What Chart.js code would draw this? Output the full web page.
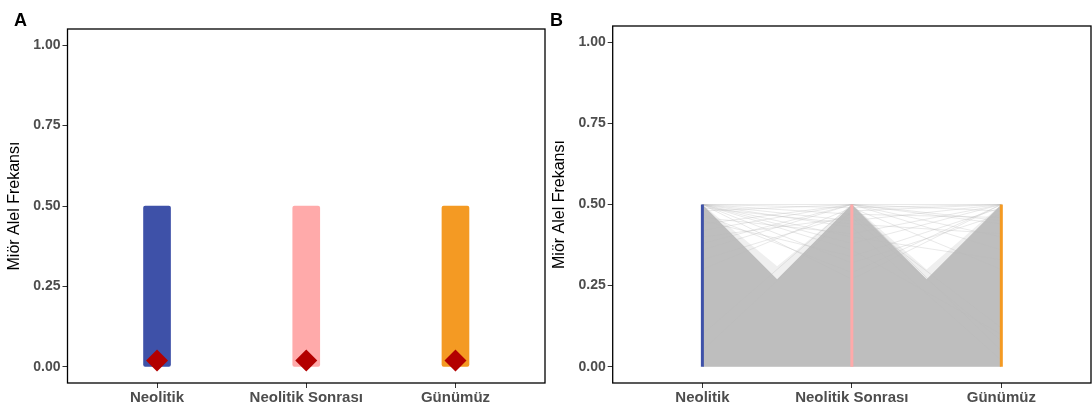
<!DOCTYPE html>
<html>
<head>
<meta charset="utf-8">
<script src="https://cdn.jsdelivr.net/npm/chart.js@4.4.1/dist/chart.umd.min.js"></script>
<style>
    body { margin: 0; background: #fff; width: 1092px; height: 411px; overflow: hidden; position: relative; }
    canvas { position: absolute; top: 0; }
    #chartA { left: 0; }
    #chartB { left: 548px; }
    .tag { position: absolute; top: 11px; font: bold 18px 'Liberation Sans', Arial, sans-serif; line-height: 1; color: #000; z-index: 2; }
</style>
</head>
<body>
<div class="tag" style="left:14px">A</div>
<div class="tag" style="left:550px">B</div>
<canvas id="chartA" width="560" height="411"></canvas>
<canvas id="chartB" width="544" height="411"></canvas>
<script>
const categories = ['Neolitik', 'Neolitik Sonrası', 'Günümüz'];
const catColors = ['#3E51A8', '#FFAAAA', '#F49A23'];
const yTicks = [0, 0.25, 0.5, 0.75, 1];

// panel A: extent of the jittered SNP cloud per period, and the mean (red diamond)
const stripMin = [0, 0, 0];
const stripMax = [0.5, 0.5, 0.5];
const meanFreq = [0.02, 0.02, 0.02];

// panel B: upper edge of the solid mass of lines, and of the lighter mesh just above it
const bandX = [0, 0.5, 1, 1.5, 2];
const bandTop = [0.5, 0.27, 0.5, 0.27, 0.5];
const meshTop = [0.5, 0.31, 0.5, 0.30, 0.5];

// panel B: single SNP lines that show above the mass
const snpNeolitik = [0.50, 0.48, 0.50, 0.42, 0.50, 0.36, 0.50, 0.46, 0.50, 0.30, 0.44, 0.50, 0.40, 0.10, 0.50, 0.47, 0.05, 0.50, 0.38, 0.49, 0.45, 0.50, 0.33, 0.50];
const snpSonrasi  = [0.47, 0.50, 0.38, 0.50, 0.43, 0.50, 0.50, 0.41, 0.32, 0.49, 0.50, 0.45, 0.46, 0.50, 0.36, 0.29, 0.48, 0.40, 0.50, 0.44, 0.34, 0.49, 0.47, 0.27];
const snpGunumuz  = [0.12, 0.05, 0.50, 0.44, 0.02, 0.48, 0.40, 0.50, 0.47, 0.50, 0.36, 0.50, 0.08, 0.45, 0.10, 0.50, 0.50, 0.33, 0.50, 0.41, 0.49, 0.30, 0.46, 0.50];

const FONT = "'Liberation Sans', Arial, sans-serif";

const boxBorder = {
    id: 'boxBorder',
    afterDatasetsDraw(chart) {
        const { ctx, chartArea: a } = chart;
        ctx.save();
        ctx.strokeStyle = '#000';
        ctx.lineWidth = 1.3;
        ctx.strokeRect(a.left, a.top, a.right - a.left, a.bottom - a.top);
        ctx.restore();
    },
};

function scalesFor(yWidth, titlePad) {
    return {
        x: {
            type: 'linear',
            min: -0.6,
            max: 2.6,
            offset: false,
            afterBuildTicks: s => { s.ticks = categories.map((c, i) => ({ value: i })); },
            afterFit: s => { s.height = 28; },
            ticks: {
                callback: v => categories[v],
                color: '#4D4D4D',
                font: { family: FONT, size: 15, weight: 'bold' },
                padding: 1,
                maxRotation: 0,
                autoSkip: false,
            },
            grid: { drawOnChartArea: false, offset: false, tickLength: 5, color: '#333', lineWidth: 1 },
            border: { display: false },
        },
        y: {
            min: -0.05,
            max: 1.05,
            afterBuildTicks: s => { s.ticks = yTicks.map(v => ({ value: v })); },
            afterFit: s => { s.width = yWidth; },
            ticks: {
                callback: v => Number(v).toFixed(2),
                color: '#4D4D4D',
                font: { family: FONT, size: 14, weight: 'bold' },
                padding: 2,
            },
            grid: { drawOnChartArea: false, tickLength: 5, color: '#333', lineWidth: 1 },
            border: { display: false },
            title: {
                display: true,
                text: 'Miör Alel Frekansı',
                color: '#000',
                font: { family: FONT, size: 16 },
                padding: { top: titlePad, bottom: 0 },
            },
        },
    };
}

const baseOpts = {
    responsive: false,
    animation: false,
    devicePixelRatio: 1,
    plugins: { legend: { display: false }, tooltip: { enabled: false } },
};

// Panel A: strip of SNP frequencies per period
new Chart(document.getElementById('chartA'), {
    type: 'bar',
    data: {
        datasets: [
            {
                type: 'scatter',
                data: categories.map((c, i) => ({ x: i, y: meanFreq[i] })),
                pointStyle: 'rectRot',
                pointRadius: 11,
                backgroundColor: '#B30000',
                borderColor: '#B30000',
                borderWidth: 0,
                order: 0,
            },
            {
                type: 'bar',
                data: categories.map((c, i) => ({ x: i, y: [stripMin[i], stripMax[i]] })),
                backgroundColor: catColors,
                barThickness: 27,
                borderRadius: 2,
                borderSkipped: false,
                order: 1,
            },
        ],
    },
    options: {
        ...baseOpts,
        layout: { padding: { top: 29, right: 15, bottom: 0, left: 0 } },
        scales: scalesFor(67.5, 5),
    },
    plugins: [boxBorder],
});

// Panel B: each SNP followed across the three periods
const snpLines = snpNeolitik.map((v, k) => ({
    data: [
        { x: 0, y: v },
        { x: 1, y: snpSonrasi[k] },
        { x: 2, y: snpGunumuz[k] },
    ],
    borderColor: 'rgba(185,185,185,0.4)',
    borderWidth: 0.8,
    pointRadius: 0,
    order: 1,
}));

const periodLines = categories.map((c, i) => ({
    data: [{ x: i, y: stripMin[i] }, { x: i, y: stripMax[i] }],
    borderColor: catColors[i],
    borderWidth: 3,
    pointRadius: 0,
    order: 0,
}));

new Chart(document.getElementById('chartB'), {
    type: 'line',
    data: {
        datasets: [
            ...periodLines,
            ...snpLines,
            {
                data: bandX.map((x, i) => ({ x, y: meshTop[i] })),
                fill: 'origin',
                backgroundColor: 'rgba(190,190,190,0.25)',
                borderWidth: 0,
                pointRadius: 0,
                order: 2,
            },
            {
                data: bandX.map((x, i) => ({ x, y: bandTop[i] })),
                fill: 'origin',
                backgroundColor: '#BEBEBE',
                borderWidth: 0,
                pointRadius: 0,
                order: 3,
            },
        ],
    },
    options: {
        ...baseOpts,
        layout: { padding: { top: 26, right: 1, bottom: 0, left: 0 } },
        scales: scalesFor(64.7, 1.5),
    },
    plugins: [boxBorder],
});
</script>
</body>
</html>
